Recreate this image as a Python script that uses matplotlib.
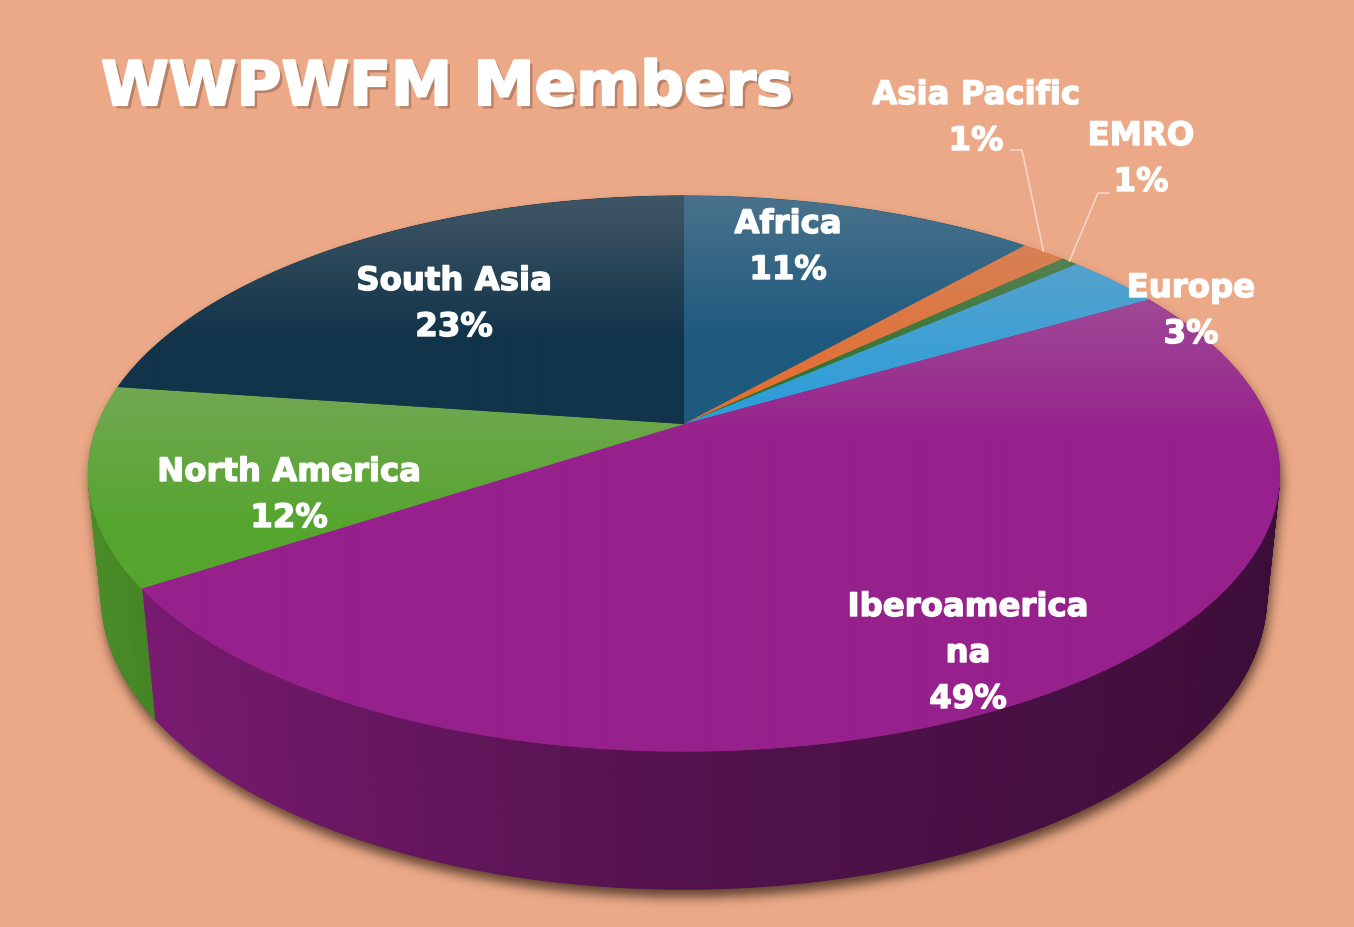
import numpy as np
import matplotlib
matplotlib.use("Agg")
import matplotlib.pyplot as plt
from matplotlib.collections import PolyCollection
from matplotlib.patches import Polygon
from matplotlib.path import Path
import matplotlib.patheffects as pe
from matplotlib.colors import to_rgb

# ---------------- data ----------------
regions = ["Africa", "Asia Pacific", "EMRO", "Europe",
           "Iberoamericana", "North America", "South Asia"]
shares = [11.45, 1.45, 0.55, 3.15, 49.1, 11.55, 22.75]      # % of members
region_colors = ["#1E5A7E", "#E36F33", "#2D6F2C", "#2E9ED9",
                 "#96218C", "#56A52F", "#12344A"]
title_text = "WWPWFM Members"

# label layout: centre x, first-line baseline y, wrapped name
label_layout = {
    "Africa":         (788, 234, "Africa"),
    "Asia Pacific":   (976, 105, "Asia Pacific"),
    "EMRO":           (1141, 146, "EMRO"),
    "Europe":         (1191, 298, "Europe"),
    "Iberoamericana": (968, 617, "Iberoamerica\nna"),
    "North America":  (289, 482, "North America"),
    "South Asia":     (454, 291, "South Asia"),
}
leader_elbows = {
    "Asia Pacific": [(1010, 151), (1022, 151)],
    "EMRO":         [(1110, 194), (1098, 194)],
}

# ---------------- canvas ----------------
W, H = 1354, 928
BG = "#EBA987"
fig = plt.figure(figsize=(W / 100, H / 100), dpi=100)
fig.patch.set_facecolor(BG)
ax = fig.add_axes([0, 0, 1, 1])
ax.set_xlim(0, W)
ax.set_ylim(H, 0)
ax.axis("off")
ax.set_facecolor(BG)

# ---------------- 3-D perspective of a disc ----------------
CX, CY = 684.0, 425.0          # where the disc centre lands on screen
PHI = np.deg2rad(27.3)         # camera elevation
DIST = 4.98                    # camera distance (disc radius = 1)
FOC = 2919.0                   # focal length in pixels
THICK = 0.237                  # disc thickness


def project(X, Y, Z):
    qy = Y + DIST * np.cos(PHI)
    qz = Z - DIST * np.sin(PHI)
    depth = qy * np.cos(PHI) - qz * np.sin(PHI)
    yc = qy * np.sin(PHI) + qz * np.cos(PHI)
    return CX + FOC * X / depth, CY - FOC * yc / depth


def rim(theta_deg, z):
    t = np.deg2rad(theta_deg)
    u, v = project(np.sin(t), np.cos(t), z)
    return np.column_stack([u, v])


cum = np.concatenate([[0], np.cumsum(shares)])
angles = cum / cum[-1] * 360.0

# visible part of the cylinder wall
vis_lim = np.rad2deg(np.arccos(-1.0 / (DIST * np.cos(PHI))))
vis_lo, vis_hi = vis_lim, 360.0 - vis_lim

# ---------------- drop shadow ----------------
pad = 40
gx, gy = np.meshgrid(np.arange(-pad, W + pad) + 0.5, np.arange(-pad, H + pad) + 0.5)
pts = np.column_stack([gx.ravel(), gy.ravel()])
full = np.linspace(0, 360, 721)
wall_th = np.linspace(vis_lo, vis_hi, 400)
sil = [rim(full, 0), rim(full, -THICK),
       np.vstack([rim(wall_th, 0), rim(wall_th[::-1], -THICK)])]
mask = np.zeros(len(pts), bool)
for poly in sil:
    mask |= Path(poly).contains_points(pts)
mask = mask.reshape(gx.shape).astype(float)
dy, dx = 8, 2
mask = np.roll(np.roll(mask, dy, axis=0), dx, axis=1)
sigma = 5.5
fy = np.fft.fftfreq(mask.shape[0])[:, None]
fx = np.fft.fftfreq(mask.shape[1])[None, :]
kern = np.exp(-2 * (np.pi * sigma) ** 2 * (fx ** 2 + fy ** 2))
blur = np.real(np.fft.ifft2(np.fft.fft2(mask) * kern))[pad:-pad, pad:-pad]
shadow = np.zeros((H, W, 4))
shadow[..., :3] = np.array([72, 48, 34]) / 255
shadow[..., 3] = np.clip(blur, 0, 1) * 0.85
ax.imshow(shadow, extent=(0, W, H, 0), zorder=1, interpolation="bilinear")

# ---------------- side walls ----------------
def wall_factor(x):
    return np.interp(x, [-1, 0, 1], [0.86, 0.55, 0.40])

for i, col in enumerate(region_colors):
    a0, a1 = max(angles[i], vis_lo), min(angles[i + 1], vis_hi)
    if a1 <= a0:
        continue
    th = np.linspace(a0, a1, max(4, int((a1 - a0) * 3)))
    top, bot = rim(th, 0), rim(th, -THICK)
    quads, cols = [], []
    base = np.array(to_rgb(col))
    for k in range(len(th) - 1):
        quads.append([top[k], top[k + 1], bot[k + 1], bot[k]])
        mid = np.deg2rad(0.5 * (th[k] + th[k + 1]))
        cols.append(np.clip(base * wall_factor(np.sin(mid)), 0, 1))
    ax.add_collection(PolyCollection(quads, facecolors=cols, edgecolors=cols,
                                     linewidths=0.8, zorder=2))

# ---------------- top faces with soft highlight ----------------
light = np.array([185, 175, 175]) / 255
for i, col in enumerate(region_colors):
    th = np.linspace(angles[i], angles[i + 1], max(3, int((angles[i + 1] - angles[i]) * 3)))
    poly = np.vstack([[CX, CY], rim(th, 0)])
    ax.add_patch(Polygon(poly, closed=True, facecolor=col, edgecolor=col,
                         linewidth=0.6, zorder=3))
    ymin, ymax = poly[:, 1].min(), poly[:, 1].max()
    xmin, xmax = poly[:, 0].min(), poly[:, 0].max()
    rows = np.arange(int(ymin), int(ymax) + 2) + 0.5
    frac = 0.28 * np.clip(1 - (rows - ymin) / 140.0, 0, 1)
    base = np.array(to_rgb(col))
    grad = base[None, :] * (1 - frac[:, None]) + light[None, :] * frac[:, None]
    img = np.repeat(grad[:, None, :], 2, axis=1)
    im = ax.imshow(img, extent=(xmin, xmax, rows[-1] + 0.5, rows[0] - 0.5),
                   aspect="auto", interpolation="bilinear", zorder=3.5)
    im.set_clip_path(Polygon(poly, closed=True, transform=ax.transData))

# ---------------- labels ----------------
LINE = 46
lab_fx = [pe.withStroke(linewidth=1.0, foreground="white")]
for i, name in enumerate(regions):
    x, y0, wrapped = label_layout[name]
    lines = wrapped.split("\n") + [f"{shares[i]:.0f}%"]
    for k, txt in enumerate(lines):
        ax.text(x, y0 + k * LINE, txt, ha="center", va="baseline",
                fontsize=23.3, fontweight="bold", family="DejaVu Sans",
                color="white", path_effects=lab_fx, zorder=6)

# leader lines for the thin slices
for name, elbow in leader_elbows.items():
    i = regions.index(name)
    mid = 0.5 * (angles[i] + angles[i + 1])
    end = rim(np.array([mid]), 0)[0]
    xs = [p[0] for p in elbow] + [end[0]]
    ys = [p[1] for p in elbow] + [end[1]]
    ax.plot(xs, ys, color="#F6DCCB", lw=1.2, alpha=0.9, zorder=5,
            solid_capstyle="butt")

# ---------------- title ----------------
ax.text(101, 106, title_text, ha="left", va="baseline", fontsize=44.2,
        fontweight="bold", family="DejaVu Sans", color="white", zorder=6,
        path_effects=[pe.SimplePatchShadow(offset=(2.5, -2.5),
                                           shadow_rgbFace=(0.36, 0.22, 0.15),
                                           alpha=0.35),
                      pe.Stroke(linewidth=1.6, foreground="white"),
                      pe.Normal()])

fig.savefig("out.png", dpi=100, facecolor=BG)
